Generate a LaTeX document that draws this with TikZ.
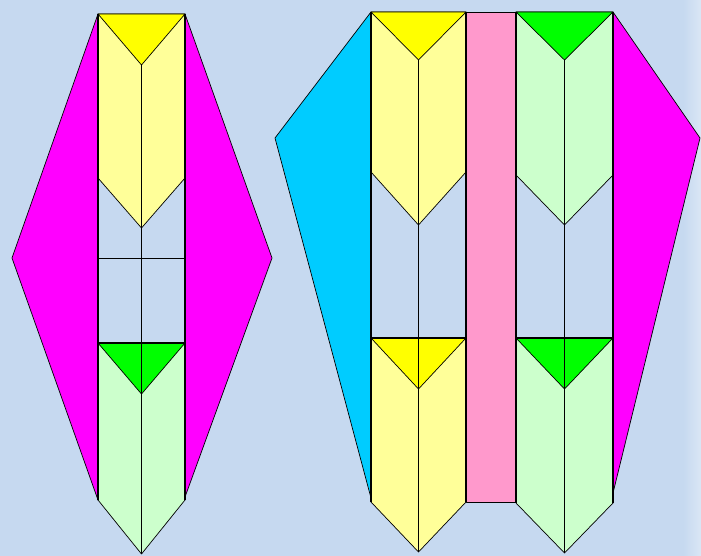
\documentclass[tikz,border=0pt]{standalone}
\usepackage{xcolor}
\usepackage{tikz}

\definecolor{bgblue}{HTML}{C6D9F0}
\definecolor{bglight}{HTML}{DAE6F5}
\definecolor{pyellow}{HTML}{FFFF99}
\definecolor{pgreen}{HTML}{CCFFCC}
\definecolor{tgreen}{HTML}{00FF00}
\definecolor{tyellow}{HTML}{FFFF00}
\definecolor{kite}{HTML}{FF00FF}
\definecolor{sky}{HTML}{00CCFF}
\definecolor{rose}{HTML}{FF99CC}

\begin{document}
\begin{tikzpicture}[x=1pt,y=-1pt,line join=round,
  edge/.style={draw=black,line width=0.7pt},
  rim/.style={draw=black,line width=1.1pt}]
  % background
  \fill[bgblue] (0,0) rectangle (701,556);
  \shade[left color=bgblue,right color=bglight] (683,0) rectangle (701,556);
  \useasboundingbox (0,0) rectangle (701,556);

  % left figure: side kites
  \fill[kite,edge] (98,14) -- (12,258) -- (98,500) -- cycle;
  \fill[kite,edge] (185,14) -- (272,258) -- (185,497) -- cycle;

  % right figure: wings and middle strip
  \fill[sky,edge] (371,12) -- (275,138) -- (371,498) -- cycle;
  \fill[kite,edge] (613,12) -- (700,138) -- (613,493) -- cycle;
  \fill[rose,edge] (466,12) rectangle (516,502);

  % arrow pieces: left/right/top/tip of triangle/side end/point/colours
  \foreach \l/\r/\t/\a/\s/\v/\dark/\light in {
      98/185/14/65/178/228/tyellow/pyellow,
      98/185/343/394/500/554/tgreen/pgreen,
      371/466/12/60/172/225/tyellow/pyellow,
      371/466/338/389/502/552/tyellow/pyellow,
      516/613/12/60/175/225/tgreen/pgreen,
      516/613/338/389/503/553/tgreen/pgreen}
  {
    \fill[\light,edge] (\l,\t) -- (\r,\t) -- (\r,\s) -- ({(\l+\r)/2},\v)
      -- (\l,\s) -- cycle;
    \fill[\dark,edge] (\l,\t) -- (\r,\t) -- ({(\l+\r)/2},\a) -- cycle;
  }

  % column sides and middle lines
  \foreach \l/\r/\t/\b in {98/185/14/500, 371/466/12/502, 516/613/12/503}
  {
    \draw[rim] (\l,\t) -- (\l,\b);
    \draw[rim] (\r,\t) -- (\r,\b);
  }
  \draw[edge] (141.5,65) -- (141.5,554);
  \draw[edge] (418.5,60) -- (418.5,552);
  \draw[edge] (564.5,60) -- (564.5,553);
  \draw[edge] (98,258) -- (185,258);
  \draw[rim] (98,343) -- (185,343);
  \draw[rim] (371,338) -- (466,338);
  \draw[rim] (516,338) -- (613,338);
\end{tikzpicture}
\end{document}
